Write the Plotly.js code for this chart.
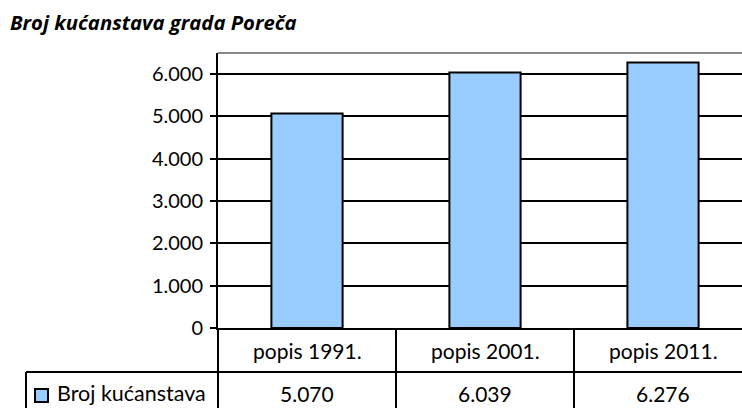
<!DOCTYPE html>
<html>
<head>
<meta charset="utf-8">
<script src="https://cdn.plot.ly/plotly-3.0.1.min.js"></script>
<style>
html, body { margin: 0; padding: 0; overflow: hidden; background: #fff; }
#chart { width: 760px; height: 408px; }
</style>
</head>
<body>
<div id="chart"></div>
<script>
const chartTitle = 'Broj kućanstava grada Poreča';
const seriesName = 'Broj kućanstava';
const categories = ['popis 1991.', 'popis 2001.', 'popis 2011.'];
const households = [5070, 6039, 6276];
const yTicks = [0, 1000, 2000, 3000, 4000, 5000, 6000];

const FONT = 'Lato, "Open Sans", sans-serif';
const TITLE_FONT = '"Open Sans", Lato, sans-serif';
const BAR_COLOR = '#99CCFF';
const fmt = v => String(v).replace(/\B(?=(\d{3})+(?!\d))/g, '.');

// plot area geometry (pixels) used to convert table positions to paper coords
const W = 760, H = 408, ML = 218, MR = 8, MT = 53, MB = 80;
const PW = W - ML - MR, PH = H - MT - MB;
const px = x => (x - ML) / PW;
const py = y => (H - MB - y) / PH;

const trace = {
  type: 'bar',
  x: categories,
  y: households,
  name: seriesName,
  marker: { color: BAR_COLOR, line: { color: '#000', width: 2 } },
  showlegend: false,
  hoverinfo: 'skip'
};

const annotations = [];
categories.forEach((c, i) => {
  annotations.push({ x: c, xref: 'x', y: py(350), yref: 'paper', text: c, showarrow: false,
    xanchor: 'center', yanchor: 'middle', font: { family: FONT, size: 21, color: '#000' } });
  annotations.push({ x: c, xref: 'x', y: py(393), yref: 'paper', text: fmt(households[i]), showarrow: false,
    xanchor: 'center', yanchor: 'middle', font: { family: FONT, size: 21, color: '#000' } });
});
// legend key text in the table
annotations.push({ x: px(55), xref: 'paper', y: py(393), yref: 'paper', text: seriesName, showarrow: false,
  xanchor: 'left', yanchor: 'middle', font: { family: FONT, size: 21.5, color: '#000' } });

const lineStyle = { color: '#000', width: 2 };
const shapes = [
  { type: 'line', xref: 'paper', yref: 'paper', x0: 0, x1: 1, y0: 1, y1: 1, line: { color: '#888', width: 2 } },
  { type: 'line', xref: 'paper', yref: 'paper', x0: 0, x1: 0, y0: 0, y1: -0.4, line: lineStyle },
  { type: 'line', xref: 'x', yref: 'paper', x0: 0.5, x1: 0.5, y0: 0, y1: -0.4, line: lineStyle },
  { type: 'line', xref: 'x', yref: 'paper', x0: 1.5, x1: 1.5, y0: 0, y1: -0.4, line: lineStyle },
  { type: 'line', xref: 'paper', yref: 'paper', x0: px(26), x1: px(26), y0: py(372), y1: -0.4, line: lineStyle },
  { type: 'line', xref: 'paper', yref: 'paper', x0: px(26), x1: 1, y0: py(372), y1: py(372), line: lineStyle },
  // legend key square
  { type: 'rect', xref: 'paper', yref: 'paper', x0: px(35), x1: px(48), y0: py(402), y1: py(389),
    fillcolor: BAR_COLOR, line: { color: '#000', width: 2 } }
];

const layout = {
  width: W,
  height: H,
  margin: { l: ML, r: MR, t: MT, b: MB },
  paper_bgcolor: '#fff',
  plot_bgcolor: '#fff',
  separators: ',.',
  bargap: 0.6,
  showlegend: false,
  title: {
    text: '<b><i>' + chartTitle + '</i></b>',
    x: 10 / W, xref: 'container', xanchor: 'left',
    y: 1 - 23 / H, yref: 'container', yanchor: 'middle',
    font: { family: TITLE_FONT, size: 20.3, color: '#000' }
  },
  xaxis: {
    type: 'category',
    showticklabels: false,
    showline: true, linecolor: '#000', linewidth: 2,
    ticks: '', showgrid: false, fixedrange: true
  },
  yaxis: {
    range: [0, 6500],
    tickvals: yTicks,
    tickformat: ',',
    showline: true, linecolor: '#000', linewidth: 2,
    ticks: 'outside', ticklen: 6, tickwidth: 2, tickcolor: '#000',
    ticklabelstandoff: 3,
    showgrid: true, gridcolor: '#000', gridwidth: 2,
    zeroline: false,
    tickfont: { family: FONT, size: 20, color: '#000' },
    fixedrange: true
  },
  annotations: annotations,
  shapes: shapes
};

Plotly.newPlot('chart', [trace], layout, { displayModeBar: false, staticPlot: true });
</script>
</body>
</html>
